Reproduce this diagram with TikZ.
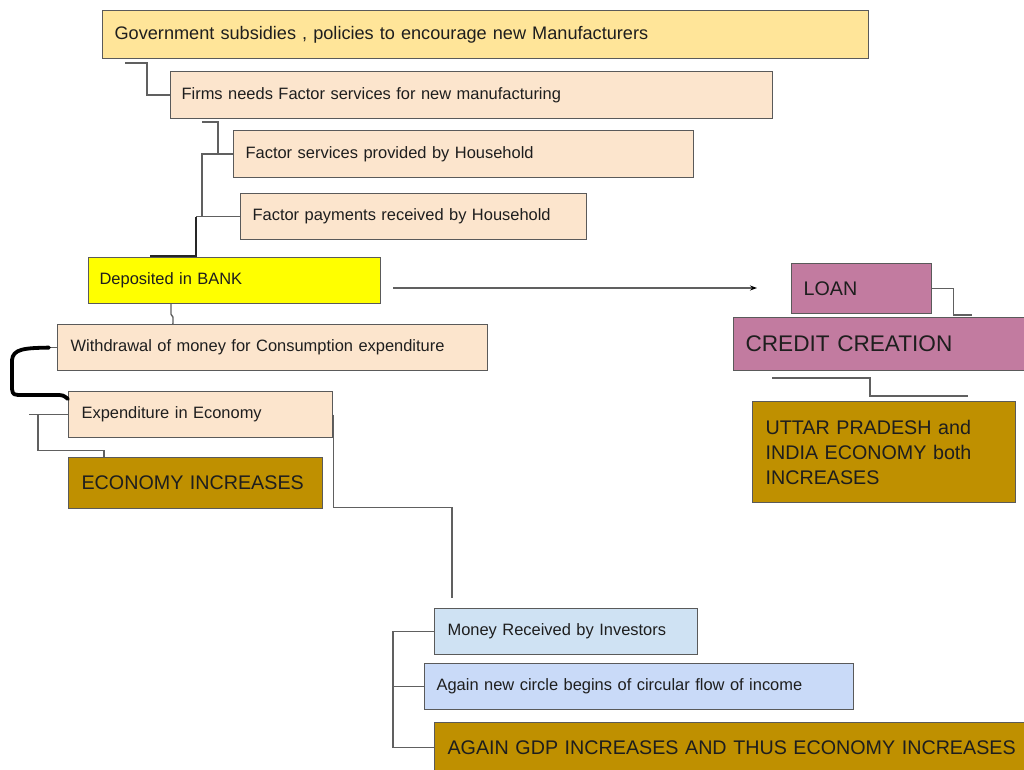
\documentclass[tikz,border=0pt]{standalone}
\usepackage{fontspec}
\setmainfont{Liberation Sans}
\usetikzlibrary{arrows.meta,calc}
\definecolor{govfill}{HTML}{FFE599}
\definecolor{peach}{HTML}{FCE5CD}
\definecolor{brightyellow}{HTML}{FFFF00}
\definecolor{darkgold}{HTML}{BF9000}
\definecolor{pinkfill}{HTML}{C27BA0}
\definecolor{lightblue}{HTML}{CFE2F3}
\definecolor{cornflower}{HTML}{C9DAF8}
\definecolor{bordercol}{HTML}{5A5A5A}
\definecolor{conncol}{HTML}{606060}
\definecolor{textcol}{HTML}{1E1E1E}
\tikzset{
  box/.style={draw=bordercol, line width=1.2pt, anchor=north west, inner ysep=0pt,
    align=left, text=textcol, font=\fontsize{16.45}{20}\selectfont},
  bigtext/.style={font=\fontsize{19.7}{25}\selectfont},
  conn/.style={draw=conncol, line width=1.4pt},
  darkconn/.style={draw=black!85, line width=1.5pt},
  handline/.style={draw=black, line width=3.8pt, line cap=round, line join=round},
}
\begin{document}
\begin{tikzpicture}[x=1pt,y=-1pt]
\useasboundingbox (0,0) rectangle (1024,770);
\clip (0,0) rectangle (1024,770);
\fill[white] (0,0) rectangle (1024,770);

% boxes
\node[box, fill=govfill, inner xsep=12pt, text width=742pt, minimum height=48pt,
  font=\fontsize{18.15}{22}\selectfont] (gov) at (102,10)
  {Government subsidies , policies to encourage new Manufacturers};
\node[box, fill=peach, inner xsep=11pt, text width=580pt, minimum height=47pt] (firms) at (170,71)
  {Firms needs Factor services for new manufacturing};
\node[box, fill=peach, inner xsep=12pt, text width=436pt, minimum height=47pt] (fs) at (233,130)
  {Factor services provided by Household};
\node[box, fill=peach, inner xsep=12pt, text width=322pt, minimum height=46pt] (fp) at (240,193)
  {Factor payments received by Household};
\node[box, fill=brightyellow, inner xsep=11pt, text width=270pt, minimum height=46pt] (dep) at (88,257)
  {Deposited in BANK};
\node[box, fill=peach, inner xsep=13pt, text width=404pt, minimum height=46pt] (wd) at (57,324)
  {Withdrawal of money for Consumption expenditure};
\node[box, fill=peach, inner xsep=13pt, text width=238pt, minimum height=46pt] (exp) at (68,391)
  {Expenditure in Economy};
\node[box, bigtext, fill=darkgold, inner xsep=13pt, text width=228pt, minimum height=51pt] (econ) at (68,457)
  {ECONOMY INCREASES};
\node[box, bigtext, fill=pinkfill, inner xsep=12pt, text width=116pt, minimum height=50pt] (loan) at (791,263)
  {LOAN};
\node[box, fill=pinkfill, inner xsep=12pt, text width=285pt, minimum height=53pt,
  font=\fontsize{22.6}{27}\selectfont] (credit) at (733,317)
  {CREDIT CREATION};
\node[box, bigtext, fill=darkgold, inner xsep=13pt, text width=237pt, minimum height=101pt] (up) at (752,401)
  {UTTAR PRADESH and\\INDIA ECONOMY both\\INCREASES};
\node[box, fill=lightblue, inner xsep=13pt, text width=237pt, minimum height=46pt] (mr) at (434,608)
  {Money Received by Investors};
\node[box, fill=cornflower, inner xsep=12pt, text width=405pt, minimum height=46pt] (ag) at (424,663)
  {Again new circle begins of circular flow of income};
\node[box, bigtext, fill=darkgold, inner xsep=13pt, text width=590pt, minimum height=50pt] (gdp) at (434,722)
  {AGAIN GDP INCREASES AND THUS ECONOMY INCREASES};

% free ends
\coordinate (g1) at (125,63);
\coordinate (f1) at (202,122);
\coordinate (d1) at (150,256);
\coordinate (a1) at (393,288);
\coordinate (a2) at (757,288);
\coordinate (e1) at (452,598);
\coordinate (l1) at (972,315);
\coordinate (c1) at (772,378);
\coordinate (c2) at (968,396);

% connectors
\draw[conn] (g1) -- ++(22,0) |- (firms.west);
\draw[conn] (f1) -- ++(16,0) |- (fs.west);
\draw[conn] (fs.west) -- ++(-31,0) |- (fp.west);
\draw[conn] (fp.west) -- ++(-44,0);
\draw[darkconn] ([xshift=-44pt]fp.west) |- (d1);
\draw[conn] ([xshift=83pt]dep.south west) -- ++(0,10) -- ++(2,3) |- ([xshift=115pt]wd.north west);
\draw[conn] (wd.west) -- ++(-8,0);
\draw[handline] ([xshift=-8pt]wd.west) .. controls (24,348) and (13,349) .. (12,360)
  -- (12,389) .. controls (13,395) .. (24,395) -- (55,395) .. controls (63,395) .. ([yshift=-8pt]exp.north west);
\draw[conn] (exp.west) -- ++(-39,0);
\draw[conn] ([xshift=-30pt]exp.west) -- ++(0,36) -| ([xshift=36pt]econ.north west);
\draw[conn] (exp.east) -- ++(0,93) -| (e1);
\draw[conn, -{Stealth[length=7pt,width=5pt,color=black]}] (a1) -- (a2);
\draw[conn] (loan.east) -- ++(21,0) |- (l1);
\draw[conn] (c1) -- ++(98,0) |- (c2);
\draw[conn] (mr.west) -- ++(-41,0) |- (gdp.west);
\draw[conn] (ag.west) -- ++(-31,0);
\end{tikzpicture}
\end{document}
